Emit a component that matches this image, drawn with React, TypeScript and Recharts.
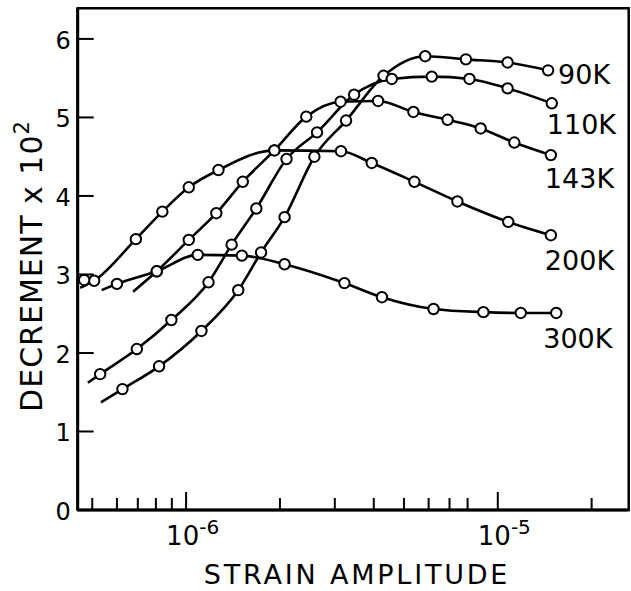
import { LineChart, Line, XAxis, YAxis, ReferenceArea, LabelList } from 'recharts';

const FONT = '"DejaVu Sans", sans-serif';

// axis ranges (log x)
const X_MIN = 4.49e-7;
const X_MAX = 2.63e-5;
const Y_MAX = 6.39;

const X_TICKS = [5e-7, 6e-7, 7e-7, 8e-7, 9e-7, 1e-6, 2e-6, 3e-6, 4e-6, 5e-6, 6e-6, 7e-6, 8e-6, 1e-5, 2e-5];
const X_MAJOR = [1e-6, 1e-5];
const X_EXP = ['-6', '-5'];
const Y_TICKS = [0, 1, 2, 3, 4, 5, 6];

// each curve: where the drawn line starts (no marker), then measured points
const start90K = [5.33e-7, 1.37];
const x90K = [6.25e-7, 8.19e-7, 1.12e-6, 1.47e-6, 1.74e-6, 2.07e-6, 2.58e-6, 3.26e-6, 4.3e-6, 5.85e-6, 7.9e-6, 1.075e-5, 1.45e-5];
const y90K = [1.54, 1.83, 2.28, 2.8, 3.28, 3.73, 4.5, 4.96, 5.53, 5.78, 5.74, 5.7, 5.6];

const start110K = [4.84e-7, 1.62];
const x110K = [5.3e-7, 6.95e-7, 8.97e-7, 1.18e-6, 1.4e-6, 1.68e-6, 2.1e-6, 2.63e-6, 3.46e-6, 4.57e-6, 6.14e-6, 8.11e-6, 1.075e-5, 1.49e-5];
const y110K = [1.73, 2.05, 2.42, 2.9, 3.38, 3.84, 4.47, 4.81, 5.29, 5.49, 5.52, 5.49, 5.37, 5.18];

const start143K = [6.76e-7, 2.78];
const x143K = [8.05e-7, 1.02e-6, 1.25e-6, 1.52e-6, 1.92e-6, 2.43e-6, 3.13e-6, 4.13e-6, 5.36e-6, 6.9e-6, 8.81e-6, 1.13e-5, 1.48e-5];
const y143K = [3.04, 3.44, 3.78, 4.18, 4.58, 5.01, 5.2, 5.21, 5.07, 4.97, 4.86, 4.68, 4.52];

const start200K = [4.57e-7, 2.83];
const x200K = [5.07e-7, 6.9e-7, 8.39e-7, 1.02e-6, 1.27e-6, 1.92e-6, 3.14e-6, 3.94e-6, 5.4e-6, 7.42e-6, 1.08e-5, 1.48e-5];
const y200K = [2.92, 3.45, 3.8, 4.11, 4.33, 4.58, 4.57, 4.42, 4.18, 3.93, 3.67, 3.5];

const start300K = [5.36e-7, 2.8];
const x300K = [6.0e-7, 8.05e-7, 1.09e-6, 1.51e-6, 2.07e-6, 3.22e-6, 4.25e-6, 6.22e-6, 8.99e-6, 1.185e-5, 1.54e-5];
const y300K = [2.88, 3.04, 3.25, 3.24, 3.13, 2.89, 2.71, 2.56, 2.52, 2.51, 2.51];

// lone point at the left edge
const xLone = [4.71e-7];
const yLone = [2.93];

const build = (start: number[] | null, xs: number[], ys: number[]) => {
  const pts = xs.map((x, i) => ({ x, y: ys[i], stub: false }));
  return start ? [{ x: start[0], y: start[1], stub: true }, ...pts] : pts;
};

const SERIES = [
  { name: '90K', data: build(start90K, x90K, y90K), dx: 10, dy: 14 },
  { name: '110K', data: build(start110K, x110K, y110K), dx: -5, dy: 31 },
  { name: '143K', data: build(start143K, x143K, y143K), dx: -6, dy: 33 },
  { name: '200K', data: build(start200K, x200K, y200K), dx: -6, dy: 35 },
  { name: '300K', data: build(start300K, x300K, y300K), dx: -13, dy: 35 },
];
const loneData = build(null, xLone, yLone);

const renderDot = (p: any) => {
  if (p.payload?.stub) return <g key={`s-${p.index}`} />;
  return <circle key={`d-${p.index}`} cx={p.cx} cy={p.cy} r={5.2} fill="#fff" stroke="#000" strokeWidth={2} />;
};

function XTick({ x, y, payload }: any) {
  const v = payload.value;
  const mi = X_MAJOR.findIndex((m) => Math.abs(v / m - 1) < 1e-6);
  const major = mi >= 0;
  return (
    <g>
      <line x1={x} y1={y} x2={x} y2={y - (major ? 18 : 12)} stroke="#000" strokeWidth={2} />
      {major && (
        <text x={x - 20} y={y + 35} fontSize={26} fontFamily={FONT} fill="#000">
          10<tspan dy={-11} fontSize={20}>{X_EXP[mi]}</tspan>
        </text>
      )}
    </g>
  );
}

function YTick({ x, y, payload }: any) {
  return (
    <g>
      <line x1={x} y1={y} x2={x + 16} y2={y} stroke="#000" strokeWidth={2} />
      <text x={x - 7} y={y + 10} textAnchor="end" fontSize={24} fontFamily={FONT} fill="#000">
        {payload.value}
      </text>
    </g>
  );
}

const xTitle = () => (
  <text x={357} y={584} textAnchor="middle" fontSize={27} letterSpacing={2.8} fontFamily={FONT} fill="#000">
    STRAIN AMPLITUDE
  </text>
);

const yTitle = () => (
  <text transform="translate(42,266) rotate(-90)" textAnchor="middle" fontSize={30} letterSpacing={1} fontFamily={FONT} fill="#000">
    DECREMENT x 10<tspan dy={-13} fontSize={21}>2</tspan>
  </text>
);

export default function App() {
  return (
    <div style={{ position: 'absolute', left: 0, top: 0, background: '#fff' }}>
      <LineChart width={631} height={591} margin={{ top: 8.3, right: 2.3, bottom: 0, left: 0 }}>
        <XAxis
          type="number"
          dataKey="x"
          scale="log"
          domain={[X_MIN, X_MAX]}
          allowDataOverflow
          ticks={X_TICKS}
          interval={0}
          tick={<XTick />}
          tickLine={false}
          tickSize={0}
          tickMargin={0}
          height={81}
          axisLine={{ stroke: '#000', strokeWidth: 3 }}
          label={xTitle}
        />
        <YAxis
          type="number"
          dataKey="y"
          domain={[0, Y_MAX]}
          allowDataOverflow
          ticks={Y_TICKS}
          interval={0}
          tick={<YTick />}
          tickLine={false}
          tickSize={0}
          tickMargin={0}
          width={77.7}
          axisLine={{ stroke: '#000', strokeWidth: 3 }}
          label={yTitle}
        />
        <ReferenceArea x1={X_MIN} x2={X_MAX} y1={0} y2={Y_MAX} fill="none" stroke="#000" strokeWidth={2.5} />
        {SERIES.map((s) => (
          <Line
            key={s.name}
            data={s.data}
            dataKey="y"
            type="monotone"
            stroke="#000"
            strokeWidth={2.6}
            dot={renderDot}
            activeDot={false}
            isAnimationActive={false}
          >
            <LabelList
              dataKey="y"
              content={(p: any) =>
                p.index === s.data.length - 1 ? (
                  <text x={p.x + s.dx} y={p.y + s.dy} fontSize={27} fontFamily={FONT} fill="#000">
                    {s.name}
                  </text>
                ) : null
              }
            />
          </Line>
        ))}
        <Line data={loneData} dataKey="y" stroke="none" dot={renderDot} activeDot={false} isAnimationActive={false} />
      </LineChart>
    </div>
  );
}
